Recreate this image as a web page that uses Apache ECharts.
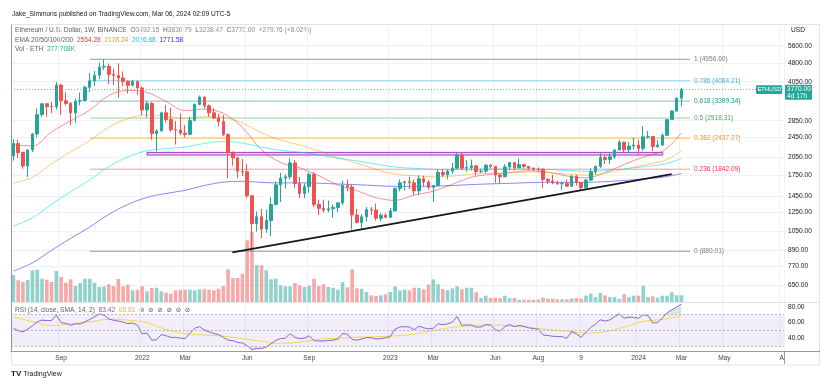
<!DOCTYPE html>
<html><head><meta charset="utf-8">
<script src="https://cdn.jsdelivr.net/npm/echarts@6/dist/echarts.min.js"></script>
<style>html,body{margin:0;padding:0;background:#fff}#c{width:834px;height:388px}</style>
</head><body><div id="c"></div>
<script>
// ---------------- DATA ----------------
const startDate = '2021-06-28';   // first weekly candle
const totalWeeks = 162;           // categories incl. empty future space
const opens = [2080,2320,2140,1895,2190,2530,3010,3320,3240,3230,
3930,3410,3330,3060,3400,3420,3850,4080,4290,4620,
4650,4320,4290,4190,4060,3920,4050,3830,3140,3330,
2540,2600,3060,2880,2630,2620,2550,2520,2860,3300,
3520,3260,3060,2920,2830,2520,2140,2040,1810,1800,
1450,1130,1200,1075,1160,1340,1600,1700,1720,1950,
1620,1480,1575,1760,1340,1295,1275,1290,1305,1360,
1590,1570,1220,1140,1200,1280,1275,1185,1218,1196,
1265,1550,1630,1645,1630,1515,1690,1640,1565,1590,
1790,1750,1810,1860,2095,1860,1870,1900,1800,1810,
1910,1890,1750,1720,1880,1955,1865,1920,1890,1860,
1845,1840,1680,1655,1630,1615,1620,1580,1730,1635,
1560,1670,1800,1890,2045,2010,2060,2190,2350,2195,
2270,2290,2220,2465,2470,2260,2290,2500,2880,3110,3492.15];
const closes = [2320,2140,1895,2190,2530,3010,3320,3240,3230,3930,
3410,3330,3060,3400,3420,3850,4080,4290,4620,4650,
4320,4290,4190,4060,3920,4050,3830,3140,3330,2540,
2600,3060,2880,2630,2620,2550,2520,2860,3300,3520,
3260,3060,2920,2830,2520,2140,2040,1810,1800,1450,
1130,1200,1075,1160,1340,1600,1700,1720,1950,1620,
1480,1575,1760,1340,1295,1275,1290,1305,1360,1590,
1570,1220,1140,1200,1280,1275,1185,1218,1196,1265,
1550,1630,1645,1630,1515,1690,1640,1565,1590,1790,
1750,1810,1860,2095,1860,1870,1900,1800,1810,1910,
1890,1750,1720,1880,1955,1865,1920,1890,1860,1845,
1840,1680,1655,1630,1615,1620,1580,1730,1635,1560,
1670,1800,1890,2045,2010,2060,2190,2350,2195,2270,
2290,2220,2465,2470,2260,2290,2500,2880,3110,3492,3770.00];
const lows = [1990,2040,1850,1718,2150,2450,2950,2950,3050,3150,
3000,3270,2740,2800,3280,3380,3690,3890,4140,4500,
3960,3930,3500,3900,3640,3880,3600,3000,2930,2400,
2160,2590,2800,2580,2300,2500,2450,2500,2830,3270,
3180,2950,2900,2710,2480,1700,1900,1700,1730,1420,
880,1050,990,1040,1010,1330,1370,1550,1680,1550,
1420,1420,1490,1310,1220,1250,1250,1190,1250,1330,
1510,1070,1130,1070,1150,1220,1160,1150,1185,1190,
1260,1510,1520,1540,1460,1460,1580,1530,1370,1590,
1720,1680,1770,1850,1830,1800,1820,1740,1780,1780,
1850,1630,1620,1715,1820,1820,1860,1850,1830,1810,
1800,1560,1610,1610,1600,1530,1570,1570,1590,1520,
1540,1650,1760,1860,1930,1930,2020,2180,2150,2130,
2200,2100,2170,2430,2170,2230,2270,2480,2870,3080,3238.47];
const highs = [2410,2410,2160,2200,2550,3180,3330,3340,3380,4030,
3970,3680,3370,3480,3670,3900,4375,4460,4800,4955,
4770,4550,4780,4440,4100,4120,4120,3880,3410,3370,
2640,3090,3280,3200,2840,3040,2740,2950,3330,3580,
3560,3300,3190,3030,3000,2540,2160,2060,2020,1930,
1460,1260,1290,1280,1430,1650,1780,1760,2030,2000,
1720,1620,1790,1790,1400,1400,1390,1340,1370,1660,
1680,1610,1290,1230,1310,1310,1350,1240,1240,1300,
1560,1680,1660,1720,1680,1740,1740,1670,1600,1840,
1840,1830,1950,2140,2130,2000,2010,1900,1850,1930,
1930,1890,1760,1930,1960,1960,2030,1930,1890,1870,
1870,1860,1700,1750,1660,1650,1680,1750,1750,1640,
1690,1860,1900,2140,2080,2140,2200,2400,2360,2350,
2450,2400,2715,2600,2480,2390,2540,2890,3130,3520,3830.79];
// volume, thousand ETH
const volumes = [1118,898,828,911,1312,1337,965,923,828,1283,
1035,799,940,662,787,965,965,799,621,650,
733,662,952,650,716,484,509,650,443,580,
592,443,385,344,484,509,509,509,484,526,
526,509,484,551,662,1354,994,994,1172,2554,
2898,1519,1519,1312,940,965,691,650,650,787,
691,621,675,965,662,733,621,592,509,828,
609,1354,567,551,414,277,248,277,319,414,
650,484,509,484,592,592,526,716,940,733,
538,484,559,650,526,592,592,402,166,261,
166,178,166,261,166,166,95,95,95,95,
95,178,137,137,112,112,112,137,166,137,
261,344,207,373,277,207,207,137,319,207,
261,261,675,207,236,178,261,261,402,277,277.708];
const rsi = [52.7,50,48.4,52,56,61,63.2,62.5,62.7,69.5,
60.2,59,56.8,58.6,58.4,61,64,67.3,70.8,69.5,
64.6,63,62,60.5,59,59.5,56.8,46,47,38,
38.5,45,43.5,41.5,41.5,40.5,40,46.5,53,55,
51,48.4,46.5,45,41.5,38,37.5,35,34.5,31,
26,27.5,27.3,29.5,33.5,37.8,40,40.5,46.3,41.5,
40,40.5,43.5,37.5,37,37,37.5,38,39.5,46.3,
45.5,39,38,39.5,41.3,41,39.5,40,41,42.5,
52,54.5,55,54.5,51,55.6,53.5,52.2,53,58.5,
57.5,58.5,60.6,67.8,56.5,57,57,54.3,54.5,57.7,
57,51,49.5,55,57.7,55,56.5,55.5,53.5,52.5,
52,44.6,43.8,43,42.5,42.5,40.4,48.8,45.8,41.6,
48,54,58,63.5,62,63.5,67.5,71,65.5,67,
66.5,65.5,70,69,59.7,60,66,72.5,76,79.6,83.42];
// RSI smoothing line, read every 4th week
const smaIdx = [0,4,8,12,16,20,24,28,32,36,40,44,48,52,56,60,64,68,72,76,80,84,88,92,96,100,104,108,112,116,120,124,128,132,136,140];
const rsiSma = [67.3,61.2,56.5,58.5,61,64.2,63,60,51.5,46.3,44.5,43,40,36.5,34,35.5,39,40.5,41.6,42.3,43.5,45.5,50,54,56.5,57,56,54,51.5,49.5,46.8,48.5,54.5,61.5,64,68.83];
// EMA lines, read every 4th week (+ last weeks)
const emaIdx = [0,4,8,12,16,20,24,28,32,36,40,44,48,52,56,60,64,68,72,76,80,84,88,92,96,100,104,108,112,116,120,124,128,132,136,137,138,139,140];
const ema20 = [2300,2269,2578,2848,3135,3573,3747,3682,3388,3120,3163,3047,2681,2194,1957,1866,1738,1598,1518,1425,1391,1460,1511,1608,1713,1760,1785,1817,1793,1733,1704,1784,1923,2054,2162,2230,2314,2426,2554.28];
const ema50 = [1628,1712,1933,2153,2382,2691,2901,3000,2967,2910,2958,2938,2791,2557,2394,2290,2171,2044,1944,1839,1761,1738,1720,1732,1761,1775,1783,1798,1790,1764,1747,1776,1839,1910,1979,2014,2057,2113,2178.24];
const ema100 = [1105,1188,1342,1502,1671,1886,2058,2174,2219,2247,2324,2363,2331,2245,2184,2147,2097,2036,1985,1927,1879,1857,1839,1836,1843,1843,1842,1845,1838,1821,1807,1818,1847,1883,1922,1941,1964,1994,2026.88];
const ema200 = [736,793,888,988,1094,1227,1341,1428,1481,1523,1591,1640,1652,1635,1628,1630,1624,1612,1603,1589,1578,1579,1581,1590,1604,1614,1622,1632,1637,1636,1636,1646,1665,1688,1712,1725,1740,1755,1771.58];
const priceTicks = [5600,4800,4050,2850,2450,2050,1750,1450,1250,1050,890,770,650];
const rsiTicks = [80,60,40];
const dateLabels = {10:'Sep',27:'2022',36:'Mar',49:'Jun',62:'Sep',79:'2023',88:'Mar',101:'Jun',110:'Aug',119:'9',131:'2024',140:'Mar',149:'May',161:'A'};
const fibRatios = ['1','0.786','0.618','0.5','0.382','0.236','0'];
const fibValues = [4956.60,4084.21,3399.34,2918.31,2437.27,1842.09,880.01];
const lastPrice = 3770.00;
const timeLeft = '4d 17h';
const symbolName = 'ETHUSD';
const resistance = [2092, 2143];        // purple zone (price)
const trendPts = [[46.4, 871],[138.45, 1763]]; // [week position, price]

// ---------------- STYLE ----------------
const FONT = '"Liberation Sans", Arial, "DejaVu Sans", sans-serif';
const FS = 6.6;
const UP = '#26A69A', DN = '#EF5350';
const fibLine = ['#9598A1','#8ED3F0','#7CC4BA','#9BD39D','#FFB74D','#F49AA1','#9598A1'];
const fibText = ['#787B86','#3FAFDC','#1E9A89','#4CAF50','#F39A13','#F23645','#787B86'];
const fibSpan = [16.55, 142.3];
const zoneSpan = [28.5, 136.6];

const weeks = [];
{ let t = Date.parse(startDate + 'T00:00:00Z'); for (let i = 0; i < totalWeeks; i++) { weeks.push(new Date(t).toISOString().slice(0,10)); t += 7*864e5; } }
const isLbl = (i) => Object.prototype.hasOwnProperty.call(dateLabels, i);
const candle = opens.map((o,i) => [o, closes[i], lows[i], highs[i]]);
const volData = volumes.map((v,i) => ({value: v, itemStyle: {color: closes[i] >= opens[i] ? 'rgba(38,166,154,0.5)' : 'rgba(239,83,80,0.5)'}}));
const pts = (idx, arr) => idx.map((i,k) => [i + 0.5, arr[k]]);

const series = [];
series.push({type:'bar', xAxisIndex:2, yAxisIndex:1, data: volData, barWidth: 3.6, z:1, silent:true});
fibValues.forEach((v,k) => {
  series.push({type:'line', xAxisIndex:1, yAxisIndex:0, data:[[fibSpan[0], v],[fibSpan[1], v]], symbol:'none', silent:true, z:2,
    lineStyle:{color: fibLine[k], width:1},
    endLabel:{show:true, formatter: fibRatios[k] + ' (' + v.toFixed(2) + ')', color: fibText[k], fontSize: FS, fontFamily: FONT, distance: 4}});
});
const emaDefs = [[ema20,'rgba(242,54,69,0.55)'],[ema50,'rgba(255,152,0,0.5)'],[ema100,'rgba(0,220,240,0.55)'],[ema200,'rgba(60,60,235,0.6)']];
emaDefs.forEach(([arr,col]) => series.push({type:'line', xAxisIndex:1, yAxisIndex:0, data: pts(emaIdx, arr), smooth:0.35, symbol:'none', silent:true, z:3, lineStyle:{color: col, width:1}}));
series.push({type:'line', xAxisIndex:1, yAxisIndex:0, data: trendPts, symbol:'none', silent:true, z:5, lineStyle:{color:'#131722', width:1.8},
  markArea:{silent:true, itemStyle:{color:'rgba(156,39,176,0.22)', borderColor:'#A23DC4', borderWidth:1},
    data:[[{coord:[zoneSpan[0], resistance[1]]},{coord:[zoneSpan[1], resistance[0]]}]]}});
series.push({type:'candlestick', xAxisIndex:0, yAxisIndex:0, data: candle, barWidth: 3, z:4, silent:true,
  itemStyle:{color: UP, color0: DN, borderColor: UP, borderColor0: DN, borderWidth: 1},
  markLine:{symbol:'none', silent:true, animation:false, label:{show:false},
    data:[{yAxis: lastPrice, lineStyle:{type:[1,2], color:'#5DBDB3', width:1}}]}});
series.push({type:'line', xAxisIndex:3, yAxisIndex:2, data: rsi.map(v => v > 70 ? v : 70), symbol:'none', silent:true, z:2,
  lineStyle:{opacity:0}, areaStyle:{origin:70, color:'rgba(76,175,80,0.3)'}});
series.push({type:'line', xAxisIndex:3, yAxisIndex:2, data: rsi.map(v => v < 30 ? v : 30), symbol:'none', silent:true, z:2,
  lineStyle:{opacity:0}, areaStyle:{origin:30, color:'rgba(242,54,69,0.3)'}});
series.push({type:'line', xAxisIndex:4, yAxisIndex:2, data: pts(smaIdx, rsiSma), smooth:0.4, symbol:'none', silent:true, z:3, lineStyle:{color:'#F5D94A', width:1}});
series.push({type:'line', xAxisIndex:3, yAxisIndex:2, data: rsi, symbol:'none', silent:true, z:4, lineStyle:{color:'#8A63D2', width:1},
  markArea:{silent:true, itemStyle:{color:'rgba(126,87,194,0.1)'}, data:[[{yAxis:70},{yAxis:30}]]},
  markLine:{symbol:'none', silent:true, label:{show:false}, lineStyle:{type:[2,2], color:'#B2B5BE', width:1}, data:[{yAxis:70},{yAxis:50},{yAxis:30}]}});

const gridL = 11, gridR = 50;
const vgrid = {show:true, interval: (i) => isLbl(i), lineStyle:{color:'#EEF1F7', width:1}};
const txt = (size) => size + 'px ' + FONT;
const graphic = [
  {type:'rect', silent:true, z:-10, shape:{x:11.5, y:24.5, width:808, height:340.5}, style:{fill:'none', stroke:'#E0E3EB', lineWidth:1}},
  {type:'line', silent:true, shape:{x1:11, y1:302.5, x2:820, y2:302.5}, style:{stroke:'#E0E3EB', lineWidth:1}},
  {type:'line', silent:true, shape:{x1:784.5, y1:351, x2:784.5, y2:364}, style:{stroke:'#9598A1', lineWidth:1}},
  {type:'line', silent:true, shape:{x1:784, y1:351.5, x2:820, y2:351.5}, style:{stroke:'#9598A1', lineWidth:1}},
  {type:'text', left:12, top:11, silent:true, style:{text:'Jake_Simmons published on TradingView.com, Mar 06, 2024 02:09 UTC-5', fill:'#131722', font: txt(FS)}},
  {type:'text', left:791, top:27, silent:true, style:{text:'USD', fill:'#131722', font: txt(FS)}},
  {type:'text', left:15, top:27, silent:true, style:{
    text:'{g|Ethereum / U.S. Dollar, 1W, BINANCE}  {g|O}{v|3492.15}  {g|H}{v|3830.79}  {g|L}{v|3238.47}  {g|C}{v|3770.00}  {v|+279.76 (+8.02%)}',
    font: txt(FS), rich:{g:{fill:'#5D606B', font: txt(FS)}, v:{fill:'#8A8D96', font: txt(FS)}}}},
  {type:'text', left:15, top:37, silent:true, style:{
    text:'{g|EMA 20/50/100/200}  {r|2554.28}  {o|2178.24}  {c|2026.88}  {b|1771.58}',
    font: txt(FS), rich:{g:{fill:'#5D606B', font: txt(FS)}, r:{fill:'#F23645', font: txt(FS)}, o:{fill:'#FF9800', font: txt(FS)}, c:{fill:'#18C3E0', font: txt(FS)}, b:{fill:'#2B2BE8', font: txt(FS)}}}},
  {type:'text', left:15, top:46, silent:true, style:{
    text:'{g|Vol · ETH}  {t|277.708K}',
    font: txt(FS), rich:{g:{fill:'#5D606B', font: txt(FS)}, t:{fill:'#2FA89A', font: txt(FS)}}}},
  {type:'text', left:15, top:307, silent:true, style:{
    text:'{g|RSI (14, close, SMA, 14, 2)}  {p|83.42}  {y|68.83}  {g|⊘  ⊘  ⊘  ⊘  ⊘  ⊘}',
    font: txt(FS), rich:{g:{fill:'#5D606B', font: txt(FS)}, p:{fill:'#7E57C2', font: txt(FS)}, y:{fill:'#E8C21E', font: txt(FS)}}}},
  {type:'text', left:11, top:370, silent:true, style:{
    text:'{l|TV} {t|TradingView}', font: txt(7), rich:{l:{fill:'#131722', font:'bold 8px ' + FONT}, t:{fill:'#131722', font: txt(7)}}}}
];
const option = {
  animation:false,
  backgroundColor:'#ffffff',
  grid:[
    {left:gridL, right:gridR, top:25, height:277},
    {left:gridL, right:gridR, top:202, height:100},
    {left:gridL, right:gridR, top:303, height:48}
  ],
  xAxis:[
    {type:'category', gridIndex:0, data: weeks, boundaryGap:true, axisLine:{show:false}, axisTick:{show:false, alignWithLabel:true}, axisLabel:{show:false}, splitLine: vgrid},
    {type:'value', gridIndex:0, min:0, max: totalWeeks, show:false},
    {type:'category', gridIndex:1, data: weeks, boundaryGap:true, show:false},
    {type:'category', gridIndex:2, data: weeks, boundaryGap:true,
      axisLine:{show:true, lineStyle:{color:'#9598A1'}}, axisTick:{show:false, alignWithLabel:true},
      axisLabel:{show:true, interval:0, formatter:(v,i) => dateLabels[i] || '', color:'#434651', fontSize: FS, fontFamily: FONT, margin: 4},
      splitLine: vgrid},
    {type:'value', gridIndex:2, min:0, max: totalWeeks, show:false}
  ],
  yAxis:[
    {type:'log', logBase:10, gridIndex:0, position:'right', min:557.3, max:6747, scale:true,
      axisLine:{show:true, lineStyle:{color:'#9598A1'}},
      axisTick:{show:false, customValues: priceTicks},
      axisLabel:{customValues: priceTicks, formatter: v => Number(v).toFixed(2), color:'#131722', fontSize: FS, fontFamily: FONT, margin: 4},
      splitLine:{show:true, lineStyle:{color:'#EEF1F7', width:1}}},
    {type:'value', gridIndex:1, min:0, max:4140, show:false},
    {type:'value', gridIndex:2, position:'right', min:24.4, max:84.7,
      axisLine:{show:true, lineStyle:{color:'#9598A1'}},
      axisTick:{show:false, customValues: rsiTicks},
      axisLabel:{customValues: rsiTicks, formatter: v => Number(v).toFixed(2), color:'#131722', fontSize: FS, fontFamily: FONT, margin: 4},
      splitLine:{show:false}}
  ],
  series,
  graphic
};
const chart = echarts.init(document.getElementById('c'), null, {renderer:'canvas'});
chart.setOption(option);
// price tags placed through the price scale
const yP = chart.convertToPixel({yAxisIndex:0}, lastPrice);
const axisX = 834 - gridR;
graphic.push(
  {type:'rect', silent:true, z:100, shape:{x: axisX + 1, y: yP - 4.8, width: 27, height: 15, r:1}, style:{fill: UP}},
  {type:'text', silent:true, z:101, x: axisX + 3, y: yP - 3.6, style:{text: lastPrice.toFixed(2) + '\n' + timeLeft, fill:'#fff', font: txt(FS), lineHeight: 7}},
  {type:'rect', silent:true, z:100, shape:{x: axisX - 28, y: yP - 4.3, width: 26, height: 8.6, r:1}, style:{fill: UP}},
  {type:'text', silent:true, z:101, x: axisX - 26.5, y: yP - 3.1, style:{text: symbolName, fill:'#fff', font: txt(5.8)}}
);
chart.setOption({graphic});
</script>
</body></html>
